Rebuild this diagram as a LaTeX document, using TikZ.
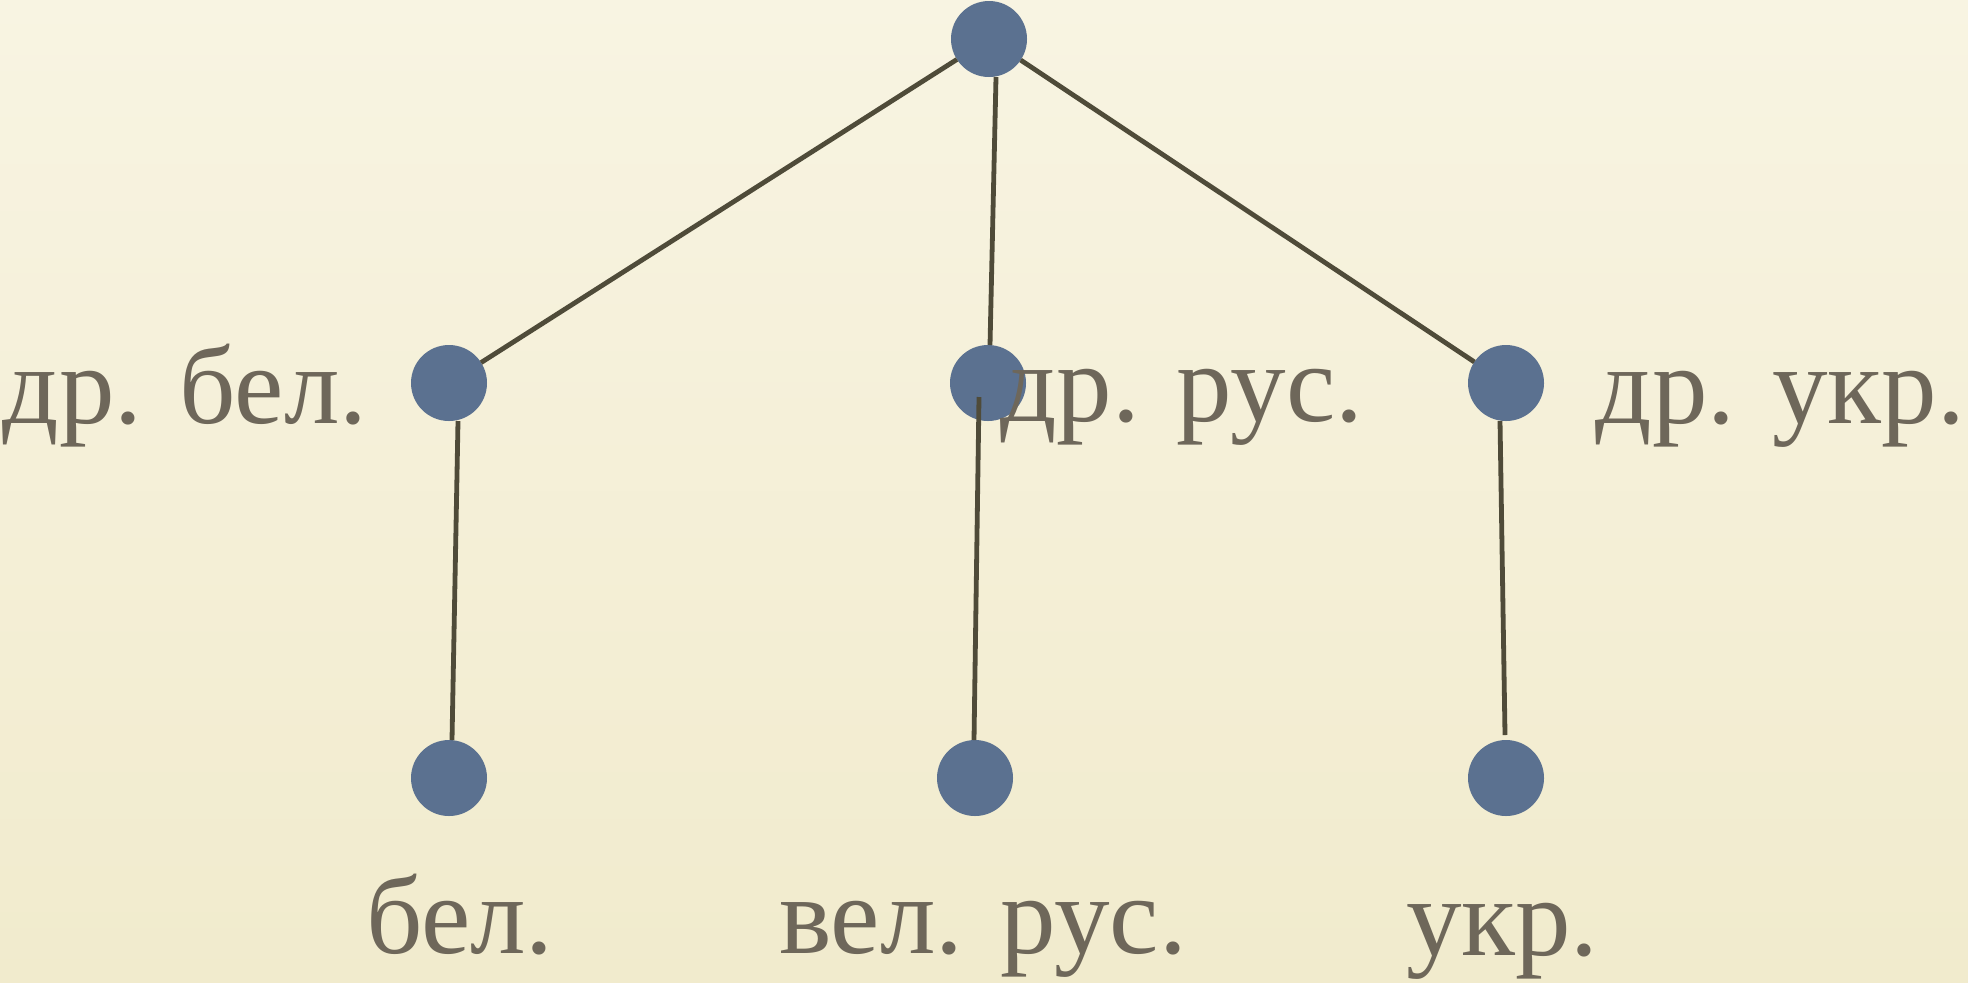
\documentclass[tikz,border=0pt]{standalone}
\usepackage{fontspec}
\setmainfont{Liberation Serif}
\definecolor{bgtop}{HTML}{F8F4E2}
\definecolor{bgbot}{HTML}{F1EBCD}
\definecolor{dotblue}{HTML}{5B7190}
\definecolor{linecol}{HTML}{4F4B39}
\definecolor{txtcol}{HTML}{6E675A}
\begin{document}
\begin{tikzpicture}[x=0.5pt,y=-0.5pt,
  dot/.style={circle,fill=dotblue,minimum size=38pt,inner sep=0pt,outer sep=0pt},
  edge/.style={draw=linecol,line width=2.4pt},
  lbl/.style={anchor=base west,inner sep=0pt,outer sep=0pt,text=txtcol,font=\fontsize{55.5}{62}\selectfont}]
\shade[top color=bgtop,bottom color=bgbot] (0,0) rectangle (1968,982);
\useasboundingbox (0,0) rectangle (1968,982);
\node[dot] (r) at (989,39) {};
\node[dot] (ml) at (449,383) {};
\node[dot] (mc) at (988,383) {};
\node[dot] (mr) at (1506,383) {};
\node[dot] (bl) at (449,778) {};
\node[dot] (bc) at (975,778) {};
\node[dot] (br) at (1506,778) {};
\draw[edge] (r) -- (ml);
\draw[edge] (r) -- (mr);
\draw[edge] ([xshift=3.5pt]r.south) -- ([xshift=1pt]mc.north);
\draw[edge] ([xshift=-4.5pt,yshift=-7pt]mc.center) -- ([xshift=-0.5pt]bc.north);
\draw[edge] ([xshift=4.5pt]ml.south) -- ([xshift=1.5pt]bl.north);
\draw[edge] ([xshift=-3pt]mr.south) -- ([xshift=-0.5pt,yshift=2.5pt]br.north);
\node[lbl] (tml) at (3,423) {др. бел.};
\node[lbl] (tmc) at (1000,421) {др. рус.};
\node[lbl,anchor=base east] (tmr) at (1965,423) {др. укр.};
\node[lbl] (tbl) at (366,953) {бел.};
\node[lbl] (tbc) at (779,953) {вел. рус.};
\node[lbl] (tbr) at (1406,955) {укр.};
\end{tikzpicture}
\end{document}
